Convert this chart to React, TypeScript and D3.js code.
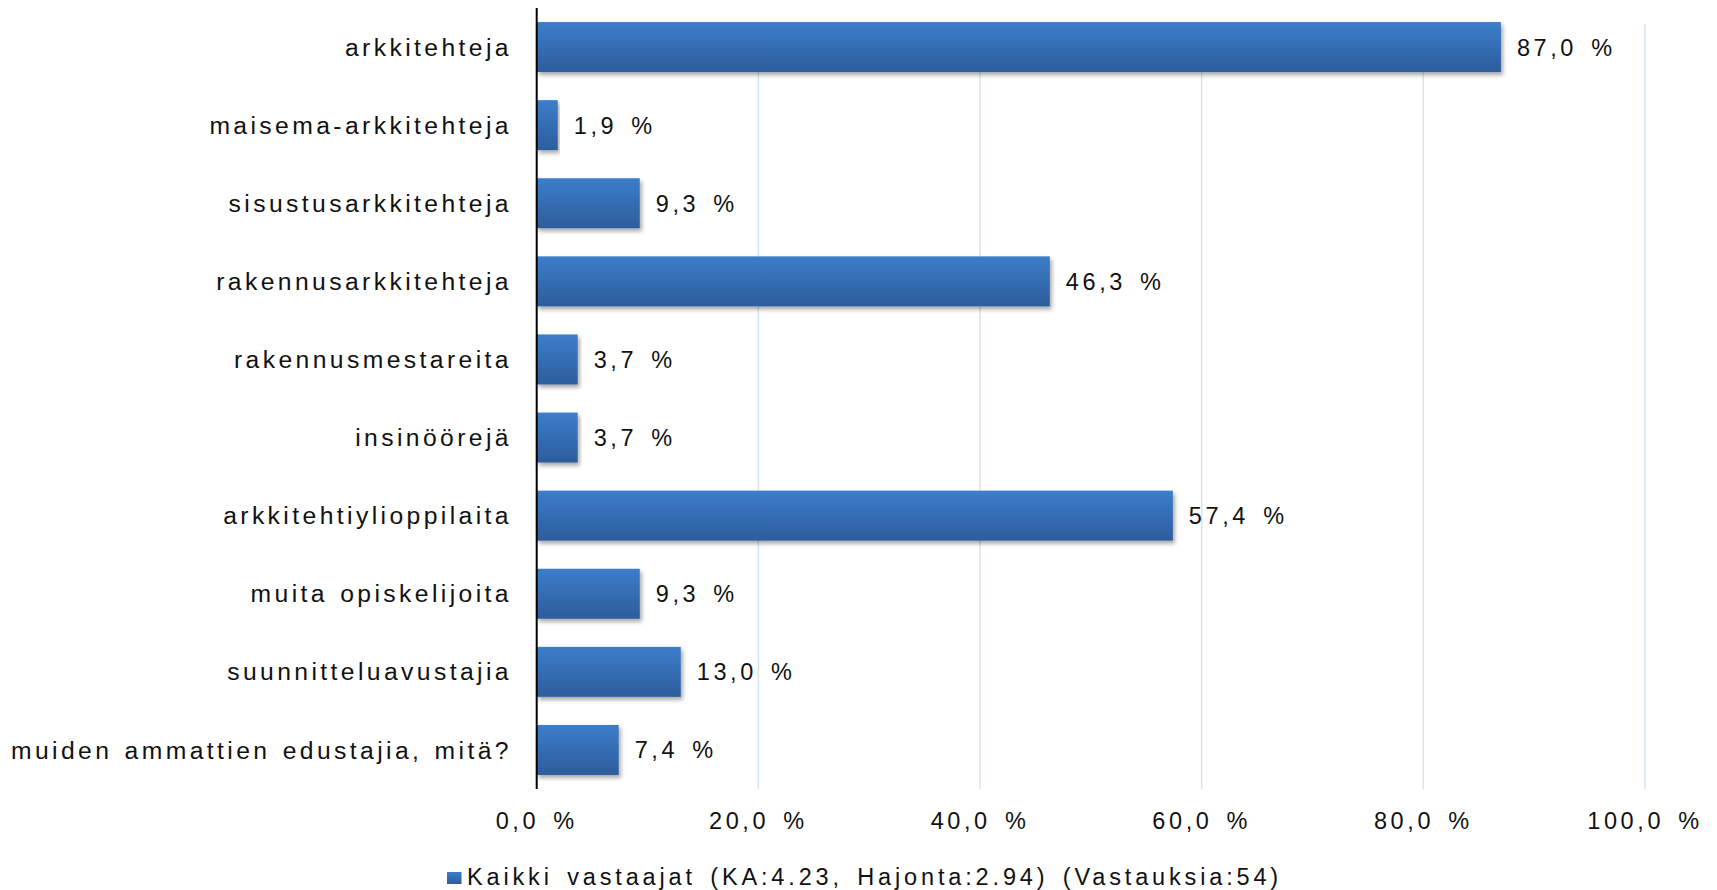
import React from "react";
import * as d3 from "d3";

const categories = [
  "arkkitehteja",
  "maisema-arkkitehteja",
  "sisustusarkkitehteja",
  "rakennusarkkitehteja",
  "rakennusmestareita",
  "insinöörejä",
  "arkkitehtiylioppilaita",
  "muita opiskelijoita",
  "suunnitteluavustajia",
  "muiden ammattien edustajia, mitä?",
];
const values = [87.0, 1.9, 9.3, 46.3, 3.7, 3.7, 57.4, 9.3, 13.0, 7.4];
const ticks = [0, 20, 40, 60, 80, 100];
const legendLabel = "Kaikki vastaajat (KA:4.23, Hajonta:2.94) (Vastauksia:54)";

const W = 1717;
const H = 890;
const left = 536.7;
const right = 1645;
const top = 8;
const bottom = 789;

const fmt = (v: number) => v.toFixed(1).replace(".", ",") + " %";

export default function App() {
  const x = d3.scaleLinear().domain([0, 100]).range([left, right]);
  const y = d3
    .scaleBand<string>()
    .domain(categories)
    .range([top, bottom])
    .paddingInner(0.36)
    .paddingOuter(0.18);
  const font = "'Liberation Sans', Arial, sans-serif";
  const textProps = {
    fontSize: 23.5,
    letterSpacing: 3.6,
    wordSpacing: 4,
    fill: "#111",
  };
  const catProps = {
    fontSize: 24.7,
    letterSpacing: 3.4,
    wordSpacing: 2,
    fill: "#111",
  };
  return (
    <svg
      width={W}
      height={H}
      style={{ position: "absolute", left: 0, top: 0, display: "block" }}
      fontFamily={font}
    >
      <defs>
        <linearGradient id="barGrad" x1="0" y1="0" x2="0" y2="1">
          <stop offset="0%" stopColor="#3c7dca" />
          <stop offset="100%" stopColor="#2d5d9c" />
        </linearGradient>
        <filter id="shadow" x="-5%" y="-20%" width="115%" height="160%">
          <feDropShadow dx="2" dy="3" stdDeviation="2" floodColor="#000" floodOpacity="0.35" />
        </filter>
      </defs>
      <rect width={W} height={H} fill="#fff" />
      {ticks.slice(1).map((t) => (
        <line
          key={t}
          x1={x(t)}
          x2={x(t)}
          y1={top + 16}
          y2={bottom}
          stroke="#d8e3f0"
          strokeWidth={1.5}
        />
      ))}
      {categories.map((c, i) => (
        <g key={c}>
          <rect
            x={x(0)}
            y={y(c)!}
            width={x(values[i]) - x(0)}
            height={y.bandwidth()}
            fill="url(#barGrad)"
            filter="url(#shadow)"
          />
          <text
            x={x(values[i]) + 16}
            y={y(c)! + y.bandwidth() / 2}
            dy="0.36em"
            {...textProps}
          >
            {fmt(values[i])}
          </text>
          <text
            x={512}
            y={y(c)! + y.bandwidth() / 2}
            dy="0.35em"
            textAnchor="end"
            {...catProps}
          >
            {c}
          </text>
        </g>
      ))}
      <line x1={left} x2={left} y1={top} y2={bottom} stroke="#000" strokeWidth={2} />
      {ticks.map((t) => (
        <text key={t} x={x(t)} y={829} textAnchor="middle" {...textProps}>
          {fmt(t)}
        </text>
      ))}
      <rect x={447} y={872} width={14.5} height={12} fill="url(#barGrad)" />
      <text x={467} y={885} {...textProps} letterSpacing={3.85}>
        {legendLabel}
      </text>
    </svg>
  );
}
